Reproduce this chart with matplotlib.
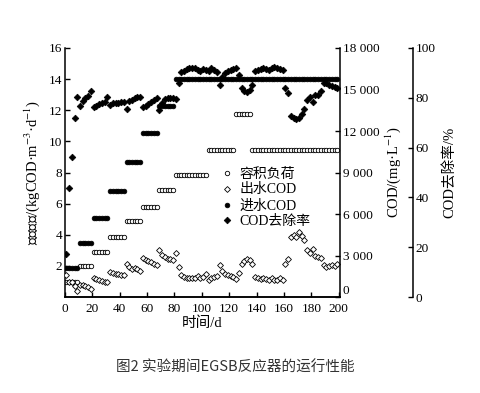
import matplotlib
matplotlib.use("Agg")
import matplotlib.pyplot as plt
from matplotlib.lines import Line2D
from matplotlib.ticker import FuncFormatter

plt.rcParams["font.family"] = ["Liberation Serif", "Noto Sans CJK SC"]
plt.rcParams["mathtext.fontset"] = "stix"
plt.rcParams["axes.unicode_minus"] = False

# sampling days (every other day, 1..199)
days = list(range(1, 200, 2))

# volumetric load, kgCOD/(m3*d)
load = [1.0, 1.0, 1.0, 1.0, 1.0,
        2.0, 2.0, 2.0, 2.0, 2.0,
        2.9, 2.9, 2.9, 2.9, 2.9, 2.9,
        3.85, 3.85, 3.85, 3.85, 3.85, 3.85,
        4.9, 4.9, 4.9, 4.9, 4.9, 4.9,
        5.8, 5.8, 5.8, 5.8, 5.8, 5.8,
        6.9, 6.9, 6.9, 6.9, 6.9, 6.9,
        7.85, 7.85, 7.85, 7.85, 7.85, 7.85, 7.85, 7.85, 7.85, 7.85, 7.85, 7.85,
        9.45, 9.45, 9.45, 9.45, 9.45, 9.45, 9.45, 9.45, 9.45, 9.45,
        11.75, 11.75, 11.75, 11.75, 11.75, 11.75,
        9.45, 9.45, 9.45, 9.45, 9.45, 9.45, 9.45, 9.45, 9.45, 9.45, 9.45,
        9.45, 9.45, 9.45, 9.45, 9.45, 9.45, 9.45, 9.45, 9.45, 9.45, 9.45,
        9.45, 9.45, 9.45, 9.45, 9.45, 9.45, 9.45, 9.45, 9.45, 9.45]

# influent COD, mg/L
cod_in = [2080, 2080, 2080, 2080, 2080,
          3940, 3940, 3940, 3940, 3940,
          5680, 5680, 5680, 5680, 5680, 5680,
          7650, 7650, 7650, 7650, 7650, 7650,
          9730, 9730, 9730, 9730, 9730, 9730,
          11870, 11870, 11870, 11870, 11870, 11870,
          13840, 13840, 13840, 13840, 13840, 13840,
          15750, 15750, 15750, 15750, 15750, 15750, 15750, 15750, 15750, 15750,
          15750, 15750, 15750, 15750, 15750, 15750, 15750, 15750, 15750, 15750,
          15750, 15750, 15750, 15750, 15750, 15750, 15750, 15750, 15750, 15750,
          15750, 15750, 15750, 15750, 15750, 15750, 15750, 15750, 15750, 15750,
          15750, 15750, 15750, 15750, 15750, 15750, 15750, 15750, 15750, 15750,
          15750, 15750, 15750, 15750, 15750, 15750, 15750, 15750, 15750, 15750]

# effluent COD, mg/L
cod_out = [1630, 1125, 1070, 790, 450,
           900, 845, 790, 730, 620,
           1350, 1295, 1240, 1180, 1125, 1070,
           1800, 1745, 1690, 1690, 1630, 1575,
           2420, 2190, 2025, 2080, 2025, 1910,
           2810, 2700, 2590, 2530, 2420, 2305,
           3430, 3040, 2870, 2755, 2755, 2700,
           3205, 2190, 1575, 1460, 1405, 1405, 1350, 1405, 1520, 1405, 1460, 1690,
           1240, 1350, 1460,
           1520, 2305, 1855, 1690, 1575, 1520, 1460, 1295, 1745,
           2420, 2590, 2755, 2700, 2365,
           1460, 1350, 1295, 1350, 1295, 1240, 1350, 1240, 1240, 1350, 1240,
           2420, 2755,
           4330, 4500, 4330, 4670, 4390, 4160,
           3375, 3205, 3490, 2980, 2870, 2810,
           2305, 2190, 2250, 2305, 2250, 2365]

# COD removal, %
removal = [17.4, 43.6, 56.4, 71.9, 80.2,
           76.7, 78.9, 80.0, 80.6, 82.8,
           76.1, 76.9, 77.5, 78.1, 78.4, 80.2,
           77.1, 77.8, 78.1, 78.1, 78.4, 78.4,
           75.4, 78.8, 79.1, 80.0, 80.3, 80.2,
           76.2, 76.9, 77.5, 78.4, 79.1, 80.0,
           75.0, 77.8, 79.7, 80.0, 80.0, 80.0,
           79.7, 85.9, 90.3, 90.9, 91.6, 91.9, 91.9, 91.8, 91.3, 90.6, 91.6, 91.3,
           90.9, 91.8, 91.3,
           90.3, 85.0, 88.3, 89.8, 90.6, 91.1, 91.4, 91.9, 89.2,
           83.8, 82.8, 82.5, 83.1, 85.1,
           90.6, 91.3, 91.6, 91.9, 91.6, 91.3, 91.9, 92.2, 91.9, 91.6, 91.3,
           84.1, 81.9,
           72.8, 71.9, 71.3, 71.9, 73.4, 75.3,
           79.1, 80.3, 78.4, 81.3, 81.3, 82.8,
           85.9, 85.9, 85.0, 84.7, 84.4, 84.1]

labels = ["容积负荷", "出水COD", "进水COD", "COD去除率"]

fig = plt.figure(figsize=(4.81, 3.93), dpi=100)
ax = fig.add_axes([0.135, 0.244, 0.572, 0.634])
ax2 = ax.twinx()
ax3 = ax.twinx()
ax3.spines["right"].set_position(("axes", 1.265))

open_o = dict(ls="none", marker="o", ms=3.2, mfc="white", mec="black", mew=0.6)
open_d = dict(ls="none", marker="D", ms=3.0, mfc="white", mec="black", mew=0.6)
fill_o = dict(ls="none", marker="o", ms=3.4, mfc="black", mec="black", mew=0.5)
fill_d = dict(ls="none", marker="D", ms=3.4, mfc="black", mec="black", mew=0.5)

ax.plot(days, load, **open_o)
ax2.plot(days, cod_out, **open_d)
ax2.plot(days, cod_in, **fill_o)
ax3.plot(days, removal, **fill_d)

ax.set_xlim(0, 201)
ax.set_ylim(0, 16)
ax2.set_ylim(0, 18000)
ax3.set_ylim(0, 100)

ax.set_xticks(range(0, 201, 20))
ax.set_yticks(range(2, 17, 2))
ax2.set_yticks(range(0, 18001, 3000))
ax2.yaxis.set_major_formatter(FuncFormatter(lambda v, p: f"{int(v):,}".replace(",", " ")))
ax3.set_yticks(range(0, 101, 20))

for a in (ax, ax2, ax3):
    a.spines["top"].set_visible(False)
    for s in a.spines.values():
        s.set_linewidth(1.1)
    a.tick_params(direction="in", length=3.5, width=1.0, labelsize=9.5, pad=2)
ax.tick_params(axis="x", pad=4)
ax.spines["right"].set_visible(False)
ax2.spines["left"].set_visible(False)
ax3.spines["left"].set_visible(False)
ax3.spines["bottom"].set_visible(False)

# the COD "0" sits just above the x-axis corner, clear of the "200"
ax2.get_yticklabels()[0].set_va("bottom")

ax.set_xlabel("时间/d", fontsize=10.5, labelpad=1)
ax.set_ylabel("容积负荷/(kgCOD·m$^{-3}$·d$^{-1}$)", fontsize=10.5, labelpad=5)
ax2.set_ylabel("COD/(mg·L$^{-1}$)", fontsize=10.5, labelpad=3)
ax3.set_ylabel("COD去除率/%", fontsize=10.5, labelpad=5)

handles = [Line2D([], [], **open_o), Line2D([], [], **open_d),
           Line2D([], [], **fill_o), Line2D([], [], **fill_d)]
ax3.legend(handles, labels, loc="upper left", bbox_to_anchor=(0.569, 0.52),
           frameon=False, fontsize=10, handlelength=0.8, handletextpad=0.5,
           labelspacing=0.2, borderaxespad=0, borderpad=0)

fig.text(0.49, 0.064, "图2 实验期间EGSB反应器的运行性能", ha="center", va="center",
         fontsize=10.5, family=["Noto Sans CJK SC"], color="#333333")

fig.savefig("out.png", dpi=100)
